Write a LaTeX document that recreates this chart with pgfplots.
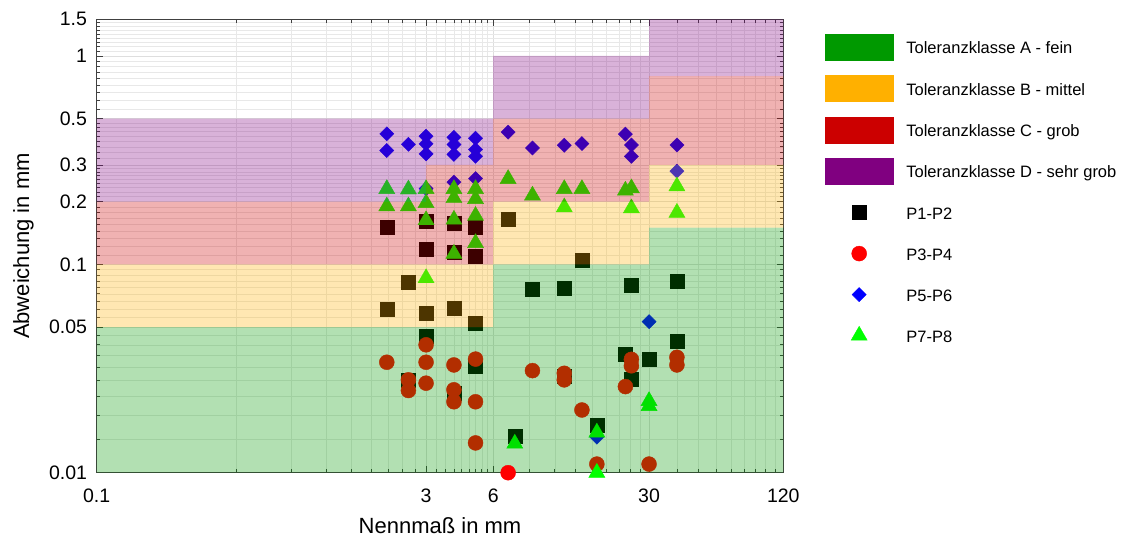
\documentclass[border=0pt]{standalone}
\usepackage{fontspec}
\setmainfont{Liberation Sans}
\usepackage{pgfplots}
\pgfplotsset{compat=1.18}
\definecolor{cA}{rgb}{0,0.6,0}
\definecolor{cB}{rgb}{1,0.69,0}
\definecolor{cC}{rgb}{0.8,0,0}
\definecolor{cD}{rgb}{0.5,0,0.5}
\definecolor{axgray}{gray}{0.25}
\definecolor{pblue}{rgb}{0,0,1}
\definecolor{pgreen}{rgb}{0,1,0}
\definecolor{pred}{rgb}{1,0,0}
\pgfplotsset{
  marklegend/.style={legend image code/.code={%
    \path[draw=none,fill=none] (0pt,-13pt) rectangle (68pt,13pt);
    \draw[mark repeat=2,mark phase=2,##1] plot coordinates {(0pt,0pt) (34pt,0pt) (68pt,0pt)};}},
}
\begin{document}
\begin{tikzpicture}
\useasboundingbox (-96.7pt,-63.3pt) rectangle (1024.3pt,472.7pt);
\begin{axis}[
  clip marker paths=true,
  at={(0pt,0pt)}, anchor=south west,
  scale only axis, width=686.6pt, height=453.4pt,
  xmode=log, ymode=log,
  xmin=0.1, xmax=120, ymin=0.01, ymax=1.5,
  xtick={0.1,3,6,30,120}, xticklabels={0.1,3,6,30,120},
  ytick={0.01,0.05,0.1,0.2,0.3,0.5,1,1.5},
  yticklabels={0.01,0.05,0.1,0.2,0.3,0.5,1,1.5},
  minor xtick={0.4222,0.7444,1.0667,1.3889,1.7111,2.0333,2.3556,2.6778,3.3333,3.6667,4,4.3333,4.6667,5,5.3333,5.6667,8.6667,11.333,14,16.667,19.333,22,24.667,27.333,40,50,60,70,80,90,100,110},
  minor ytick={0.014444,0.018889,0.023333,0.027778,0.032222,0.036667,0.041111,0.045556,0.055556,0.061111,0.066667,0.072222,0.077778,0.083333,0.088889,0.094444,0.11111,0.12222,0.13333,0.14444,0.15556,0.16667,0.17778,0.18889,0.21111,0.22222,0.23333,0.24444,0.25556,0.26667,0.27778,0.28889,0.32222,0.34444,0.36667,0.38889,0.41111,0.43333,0.45556,0.47778,0.55556,0.61111,0.66667,0.72222,0.77778,0.83333,0.88889,0.94444,1.0556,1.1111,1.1667,1.2222,1.2778,1.3333,1.3889,1.4444},
  grid=both,
  major grid style={black!13, line width=0.5pt},
  minor grid style={black!9, line width=0.5pt},
  tick align=inside,
  xtick pos=both, ytick pos=both,
  xticklabel pos=lower, yticklabel pos=left,
  major tick length=6.5pt, minor tick length=3.5pt,
  every tick/.style={axgray, line width=0.6pt},
  axis line style={axgray, line width=0.7pt},
  tick label style={font=\fontsize{19.5}{22}\selectfont},
  yticklabel style={xshift=-6.2pt},
  xticklabel style={yshift=-12.8pt},
  label style={font=\fontsize{22}{26}\selectfont},
  xlabel={Nennmaß in mm},
  ylabel={Abweichung in mm},
  xlabel style={at={(axis description cs:0.5,-0.133)}, anchor=base},
  ylabel style={at={(axis description cs:-0.0985,0.5)}, anchor=base},
  clip=false,
  legend cell align=left,
  legend style={at={(axis description cs:1.0607,0.9676)}, anchor=north west,
    draw=none, fill=none, inner sep=0pt, outer sep=0pt, row sep=15pt,
    font=\fontsize{16.5}{19}\selectfont,
    nodes={inner sep=0pt, text height=16pt, text depth=3pt},
    /tikz/every odd column/.append style={column sep=13pt}},
]
% legend patches
\addlegendimage{legend image code/.code={\fill[cA] (0pt,-13pt) rectangle (68pt,13pt);}}
\addlegendentry{Toleranzklasse A - fein}
\addlegendimage{legend image code/.code={\fill[cB] (0pt,-13pt) rectangle (68pt,13pt);}}
\addlegendentry{Toleranzklasse B - mittel}
\addlegendimage{legend image code/.code={\fill[cC] (0pt,-13pt) rectangle (68pt,13pt);}}
\addlegendentry{Toleranzklasse C - grob}
\addlegendimage{legend image code/.code={\fill[cD] (0pt,-13pt) rectangle (68pt,13pt);}}
\addlegendentry{Toleranzklasse D - sehr grob}

% P1-P2 squares
\addplot[only marks, mark=square*, mark size=7pt, black, mark options={draw=black, fill=black}, marklegend] coordinates {
(2,0.150) (2,0.0610)
(2.5,0.0822) (2.5,0.0279)
(3,0.161) (3,0.1185) (3,0.0583) (3,0.045)
(4,0.158) (4,0.114) (4,0.0613) (4,0.0241)
(5,0.151) (5,0.109) (5,0.0522) (5,0.0323)
(7,0.164) (7.5,0.0150)
(9,0.0761)
(12.5,0.0769) (12.5,0.0289)
(15,0.1045)
(17.5,0.0169)
(23.5,0.0371)
(25,0.0798) (25,0.0281)
(30,0.0351)
(40,0.0829) (40,0.0430)
};
\addlegendentry{P1-P2}
% P3-P4 circles
\addplot[only marks, mark=*, mark size=7.5pt, pred, mark options={draw=pred, fill=pred}, marklegend] coordinates {
(2,0.0339)
(2.5,0.0279) (2.5,0.0248)
(3,0.0411) (3,0.0339) (3,0.0269)
(4,0.0329) (4,0.0250) (4,0.0219)
(5,0.0351) (5,0.0219) (5,0.0139)
(9,0.0309)
(12.5,0.0300) (12.5,0.0279)
(15,0.0200)
(17.5,0.0110)
(23.5,0.0259)
(25,0.0350) (25,0.0326)
(30,0.0110)
(40,0.0358) (40,0.0329)
};
\addlegendentry{P3-P4}
% P5-P6 diamonds
\addplot[only marks, mark=square*, mark size=5pt, pblue, mark options={rotate=45, draw=pblue, fill=pblue}, marklegend] coordinates {
(2,0.423) (2,0.352)
(2.5,0.377)
(3,0.412) (3,0.379) (3,0.339) (3,0.231)
(4,0.407) (4,0.376) (4,0.337) (4,0.248)
(5,0.403) (5,0.356) (5,0.330) (5,0.258)
(7,0.431)
(9,0.362)
(12.5,0.373)
(15,0.380)
(17.5,0.0148)
(23.5,0.422)
(25,0.374) (25,0.330)
(30,0.0531)
(40,0.374) (40,0.280)
};
\addlegendentry{P5-P6}
% P7-P8 triangles
\addplot[only marks, mark=triangle*, mark size=9.3pt, pgreen, mark options={draw=pgreen, fill=pgreen}, marklegend] coordinates {
(2,0.230) (2,0.190)
(2.5,0.229) (2.5,0.190)
(3,0.230) (3,0.197) (3,0.163) (3,0.0859)
(4,0.230) (4,0.208) (4,0.164) (4,0.1125)
(5,0.230) (5,0.206) (5,0.171) (5,0.1266)
(7,0.257) (7.5,0.0138)
(9,0.214)
(12.5,0.230) (12.5,0.188)
(15,0.230)
(17.5,0.0156)
(23.5,0.226)
(25,0.232) (25,0.186)
(30,0.0221) (30,0.0209)
(40,0.237) (40,0.177)
};
\addlegendentry{P7-P8}

% tolerance areas (drawn over the markers, semi-transparent)
\addplot[draw=none, fill=cA, fill opacity=0.3, forget plot] coordinates {
(0.1,0.01) (120,0.01) (120,0.15) (30,0.15) (30,0.1) (6,0.1) (6,0.05) (0.1,0.05)} -- cycle;
\addplot[draw=none, fill=cB, fill opacity=0.3, forget plot] coordinates {
(0.1,0.05) (6,0.05) (6,0.1) (30,0.1) (30,0.15) (120,0.15) (120,0.3) (30,0.3) (30,0.2) (6,0.2) (6,0.1) (0.1,0.1)} -- cycle;
\addplot[draw=none, fill=cC, fill opacity=0.3, forget plot] coordinates {
(0.1,0.1) (6,0.1) (6,0.2) (30,0.2) (30,0.3) (120,0.3) (120,0.8) (30,0.8) (30,0.5) (6,0.5) (6,0.3) (3,0.3) (3,0.2) (0.1,0.2)} -- cycle;
\addplot[draw=none, fill=cD, fill opacity=0.3, forget plot] coordinates {
(0.1,0.2) (3,0.2) (3,0.3) (6,0.3) (6,0.5) (30,0.5) (30,0.8) (120,0.8) (120,1.5) (30,1.5) (30,1) (6,1) (6,0.5) (0.1,0.5)} -- cycle;

% points on the lower edge
\addplot[only marks, mark=*, mark size=7.5pt, pred, mark options={draw=pred, fill=pred}, forget plot] coordinates {(7,0.01)};
\addplot[only marks, mark=triangle*, mark size=9.3pt, pgreen, mark options={draw=pgreen, fill=pgreen}, forget plot] coordinates {(17.5,0.01)};
\end{axis}
\end{tikzpicture}
\end{document}
